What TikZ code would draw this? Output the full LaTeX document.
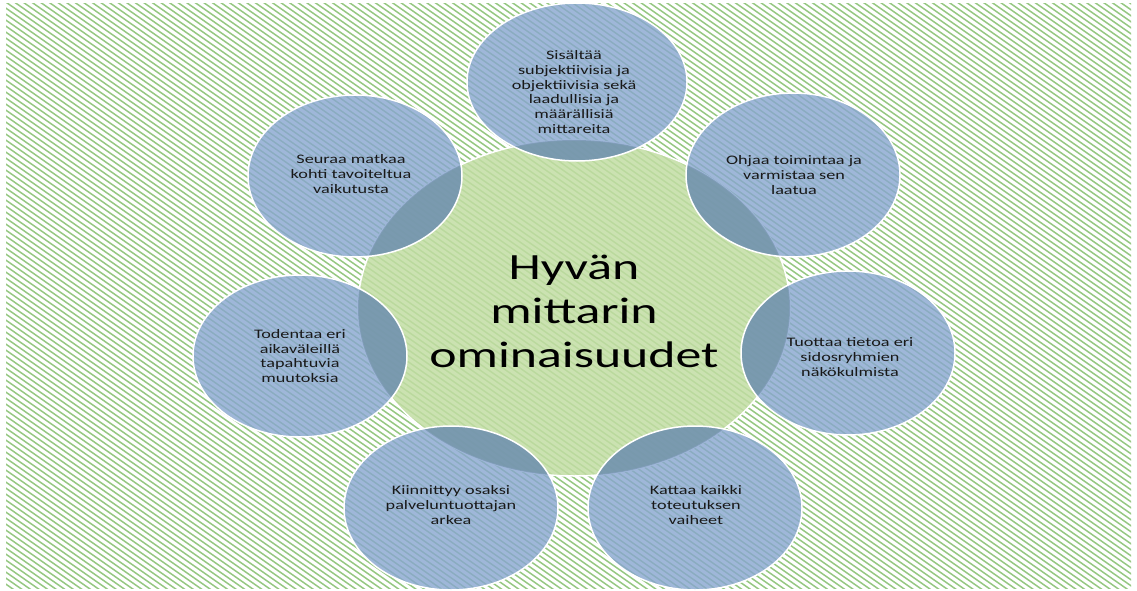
\documentclass[tikz,border=0pt]{standalone}
\usepackage{fontspec}
\setmainfont{Carlito}[FakeStretch=1.4]
\definecolor{hatchg}{RGB}{150,200,130}
\definecolor{cgreen}{RGB}{194,221,163}
\definecolor{cblue}{RGB}{136,166,208}
\definecolor{cdark}{RGB}{60,100,115}
\definecolor{ctext}{RGB}{25,25,25}
\tikzset{
  hatchline/.style={draw=hatchg, line width=1.5pt},
  greenfill/.style={fill=cgreen, fill opacity=0.84},
  bluefill/.style={fill=cblue, fill opacity=0.8},
  darken/.style={fill=cdark, fill opacity=0.3},
  rim/.style={draw=white, line width=1.5pt},
  lbl/.style={font=\fontsize{13}{14.7}\selectfont, align=center, text=ctext, inner sep=0pt},
  bigl/.style={font=\fontsize{37}{44}\selectfont, align=center, text=black, inner sep=0pt}
}
\begin{document}
\begin{tikzpicture}[x=1pt,y=-1pt]
\useasboundingbox (0,0) rectangle (1137,591);
\fill[white] (0,0) rectangle (1137,591);
% background hatch
\begin{scope}
  \clip (6,4) rectangle (1131,588);
  \foreach \c in {-800,-794,...,592} \draw[hatchline] (0,\c) -- (1137,\c+796);
\end{scope}
% central ellipse
\coordinate (ctr) at (574,308);
\path[greenfill] (ctr) ellipse [x radius=216pt, y radius=168pt];
\draw[rim] (ctr) ellipse [x radius=216pt, y radius=168pt];
% blue ellipses
\def\blobs{577/82/110/79, 793/175/107/82, 848/353/107/82, 695/508/107/82, 451/508/107/82, 300/356/107/81, 355/176/107/81}
\foreach \x/\y/\a/\b in \blobs {
  \path[bluefill] (\x,\y) ellipse [x radius=\a pt, y radius=\b pt];
}
\begin{scope}
  \clip (ctr) ellipse [x radius=216pt, y radius=168pt];
  \foreach \x/\y/\a/\b in \blobs {
    \path[darken] (\x,\y) ellipse [x radius=\a pt, y radius=\b pt];
  }
\end{scope}
\foreach \x/\y/\a/\b in \blobs {
  \draw[rim] (\x,\y) ellipse [x radius=\a pt, y radius=\b pt];
}
% texts
\node[bigl] (main) at (574,311) {Hyvän\\mittarin\\ominaisuudet};
\node[lbl] (t1) at (574,92) {Sisältää\\subjektiivisia ja\\objektiivisia sekä\\laadullisia ja\\määrällisiä\\mittareita};
\node[lbl] (t2) at (794,175) {Ohjaa toimintaa ja\\varmistaa sen\\laatua};
\node[lbl] (t3) at (850,357) {Tuottaa tietoa eri\\sidosryhmien\\näkökulmista};
\node[lbl] (t4) at (696,505) {Kattaa kaikki\\toteutuksen\\vaiheet};
\node[lbl] (t5) at (451,505) {Kiinnittyy osaksi\\palveluntuottajan\\arkea};
\node[lbl] (t6) at (300,356) {Todentaa eri\\aikaväleillä\\tapahtuvia\\muutoksia};
\node[lbl] (t7) at (351,174) {Seuraa matkaa\\kohti tavoiteltua\\vaikutusta};
\end{tikzpicture}
\end{document}
